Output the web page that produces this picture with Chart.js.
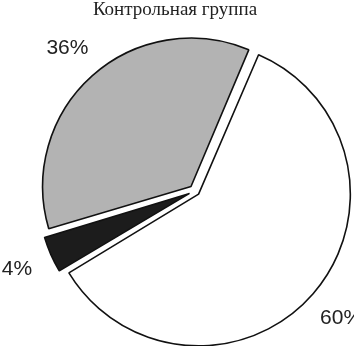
<!DOCTYPE html>
<html>
<head>
<meta charset="utf-8">
<script src="https://cdn.jsdelivr.net/npm/chart.js@4/dist/chart.umd.min.js"></script>
<style>
  html, body { margin: 0; padding: 0; background: #fff; }
  #wrap { width: 354px; height: 346px; }
</style>
</head>
<body>
<div id="wrap"><canvas id="myChart"></canvas></div>
<script>
// data
const categories = ['A', 'B', 'C'];
const shares = [60, 4, 36];
const labels = ['60%', '4%', '36%'];
const chartTitle = 'Контрольная группа';
const sliceColors = ['#ffffff', '#1c1c1c', '#b3b3b3'];
const sliceOffsets = [19, 24, 24];

// title + percent labels outside each slice
const outsideLabels = {
  id: 'outsideLabels',
  afterDatasetsDraw(chart) {
    const ctx = chart.ctx;
    const meta = chart.getDatasetMeta(0);
    ctx.save();
    ctx.fillStyle = '#222';
    ctx.textAlign = 'center';
    ctx.textBaseline = 'alphabetic';
    ctx.font = '19px "Liberation Serif", "Times New Roman", serif';
    ctx.fillText(chartTitle, 175, 15);

    ctx.font = '21px "Liberation Sans", Arial, sans-serif';
    ctx.textBaseline = 'middle';
    meta.data.forEach((arc, i) => {
      const p = arc.getProps(['x', 'y', 'startAngle', 'endAngle', 'outerRadius', 'circumference']);
      const mid = (p.startAngle + p.endAngle) / 2;
      // same shift chart.js applies to an offset arc
      const fix = 1 - Math.sin(Math.min(Math.PI, p.circumference));
      const shift = arc.options.offset / 4 * (1 + fix);
      const d = p.outerRadius + shift + 37;
      ctx.fillText(labels[i], p.x + Math.cos(mid) * d, p.y + Math.sin(mid) * d);
    });
    ctx.restore();
  }
};

const config = {
  type: 'pie',
  data: {
    labels: categories,
    datasets: [{
      data: shares,
      backgroundColor: sliceColors,
      borderColor: '#111',
      borderWidth: 1.6,
      offset: sliceOffsets,
      clip: false
    }]
  },
  options: {
    responsive: true,
    maintainAspectRatio: false,
    animation: false,
    rotation: 23,
    radius: 147,
    layout: { padding: { left: 36, right: 0, top: 36, bottom: 0 } },
    plugins: {
      legend: { display: false },
      tooltip: { enabled: false },
      title: { display: false }
    }
  },
  plugins: [outsideLabels]
};

const myChart = new Chart(document.getElementById('myChart'), config);
</script>
</body>
</html>
